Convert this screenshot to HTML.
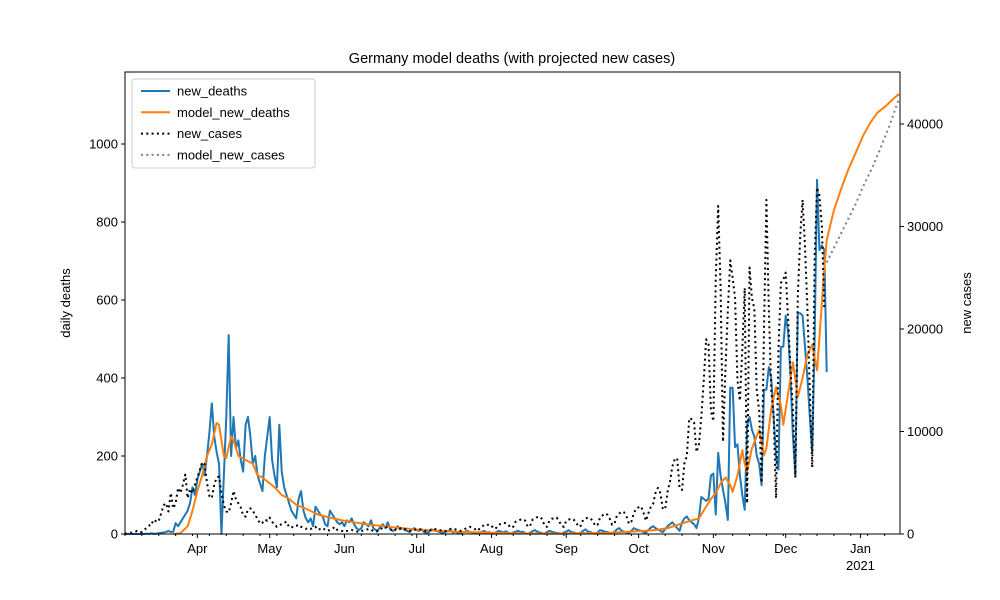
<!DOCTYPE html>
<html><head><meta charset="utf-8"><style>
html,body{margin:0;padding:0;background:#fff;}
svg{display:block;font-family:"Liberation Sans","DejaVu Sans",sans-serif;}
</style></head><body>
<svg id="chart" width="1000" height="600" viewBox="0 0 1000 600" xmlns="http://www.w3.org/2000/svg">
<rect x="0" y="0" width="1000" height="600" fill="#fff"/>
<text x="512" y="63" text-anchor="middle" font-size="14.5" fill="#000">Germany model deaths (with projected new cases)</text>
<text transform="translate(70,303) rotate(-90)" text-anchor="middle" font-size="13">daily deaths</text>
<text transform="translate(971,303) rotate(-90)" text-anchor="middle" font-size="13">new cases</text>
<g id="plot"></g>
</svg>
<script>
// ---- data (day index 0 = 2020-03-02) ----
const monthLabels = ["Apr","May","Jun","Jul","Aug","Sep","Oct","Nov","Dec","Jan"];
const monthDays = [30,60,91,121,152,183,213,244,274,305];
const leftTicks = [0,200,400,600,800,1000];
const rightTicks = [0,10000,20000,30000,40000];
const newDeaths = [
0,0,0,0,0,0,0, 0,0,1,0,2,0,1, 2,3,4,5,8,5,6, 28,20,30,40,50,60,80,
120,100,140,160,180,150,200, 260,335,250,210,180,0,150, 300,510,200,300,220,240,190,
160,280,300,250,180,200,150, 130,110,200,250,300,190,150, 120,280,160,120,100,80,60,
50,40,90,110,60,40,30, 40,20,70,60,50,45,25, 20,60,50,40,30,25,30,
20,35,30,40,25,15,10, 15,30,25,20,35,15,10, 10,20,25,15,30,12,8,
10,20,12,15,10,8,5, 12,15,10,8,12,5,3, 5,12,10,8,6,4,2,
5,8,10,4,6,3,2, 4,6,8,5,4,2,1, 3,6,8,4,5,2,1,
5,8,6,4,7,3,1, 4,6,8,5,6,2,1, 3,7,10,6,4,2,1,
5,8,6,4,3,2,1, 4,6,10,5,4,2,1, 3,8,12,6,5,2,1,
4,10,8,6,5,3,2, 6,12,15,8,6,4,2, 8,15,12,10,8,5,3,
10,16,20,15,12,8,5, 12,20,25,30,22,15,8, 30,40,45,35,30,25,15,
40,95,90,85,90,150,155, 50,208,150,113,80,36,375, 375,223,230,150,100,62,280,
300,267,250,200,180,125,370, 370,428,400,300,200,165,480, 480,560,520,400,250,150,566,
566,560,480,400,300,208,500, 908,728,740,728,415];
const newCases = [
30,50,100,150,200,300,200, 200,400,600,800,1200,1000,1400, 1300,2000,2800,3000,2200,4000,2500,
3000,4500,4000,4800,5800,3500,4400, 4000,4800,5500,6200,7000,6800,5000, 3700,3500,4800,5500,5600,4000,2800,
2200,2100,3000,4200,3400,3000,2600, 1800,1700,2400,2500,2300,1800,1500, 1000,1100,1400,1300,1600,1200,900,
700,800,1000,1100,1200,700,600, 800,800,900,700,600,500,600, 500,600,700,400,500,600,400,
300,400,500,700,400,350,300, 200,300,350,400,300,250,200, 300,350,400,500,400,300,200,
300,500,600,700,600,500,300, 400,600,550,600,500,400,300, 300,400,450,500,400,350,250,
300,400,500,450,400,350,250, 300,400,500,550,450,400,300, 400,500,600,700,600,500,300,
500,700,900,850,950,800,500, 600,900,1000,1100,1050,900,600, 700,1200,1300,1400,1450,1300,700,
800,1400,1500,1650,1700,1450,800, 700,1300,1500,1500,1600,1300,800, 700,1300,1400,1500,1400,1200,700,
800,1400,1500,1600,1500,1300,800, 900,1600,1800,2000,1900,1500,900, 1000,1800,2000,2200,2100,1700,1000,
1200,2000,2500,2600,2700,2100,1300,
2000,2600,2900,4000,4500,4000,2500, 2400,4100,5100,6600,7300,7400,4500, 4300,6900,7600,11300,11200,10900,8000,
8700,11400,14900,19000,18500,12000,11000, 25000,32000,24000,9000,16000,21800,26700, 25000,23000,15000,13000,18000,24000,3000,
26000,23000,22000,14000,12000,5000,20000, 32600,22000,14000,11500,3500,18000,24500, 24800,25500,21000,16000,12000,5500,23000,
29000,32600,28000,22000,14000,6500,27000, 33800,33000,30000,22000];
const modelDeathDays = [20,23,26,28,30,32,34,36,38,39,41,42,44,45,47,50,53,55,57,59,62,65,68,71,75,80,85,90,95,100,110,120,130,140,150,160,170,180,190,200,210,215,220,225,230,235,238,241,243,245,247,249,251,252,254,256,257,258,260,263,265,266,268,270,272,273,275,277,279,281,283,285,287,288,290,291,294,297,300,303,306,309,312,316,319,321];
const modelDeaths = [0,2,20,60,110,150,200,230,285,280,200,195,250,240,200,190,180,150,145,135,120,100,90,75,65,50,42,35,30,25,18,12,8,5,4,2,1,1,2,3,6,8,10,15,25,35,40,70,90,105,130,145,125,108,150,215,180,160,220,267,202,220,320,377,330,280,360,440,351,400,460,485,420,505,680,754,830,885,935,977,1020,1054,1080,1100,1118,1128];
const modelCaseDays = [291,295,299,303,306,310,313,317,321];
const modelCases = [26500,28400,30300,32200,33850,35800,37460,39800,42500];

// ---- axes ----
const X0=125,X1=900,Y0=534,Y1=72;
const xs = d => X0 + d*(X1-X0)/321.4;
const yl = v => Y0 - v*0.39;
const yr = v => Y0 - v*0.01025;
const NS="http://www.w3.org/2000/svg";
const plot=document.getElementById('plot');
function mk(tag,attrs,parent){const e=document.createElementNS(NS,tag);for(const k in attrs)e.setAttribute(k,attrs[k]);(parent||plot).appendChild(e);return e;}

function line(days,vals,yf,stroke,dash,width,name){
  let p='';for(let i=0;i<vals.length;i++){p+=(i?'L':'M')+xs(days[i]).toFixed(2)+' '+yf(vals[i]).toFixed(2);}
  const e=mk('path',{d:p,fill:'none',stroke:stroke,'stroke-width':width,'stroke-linejoin':'round'});
  if(dash)e.setAttribute('stroke-dasharray',dash);
  
  
}
const caseDays=newCases.map((_,i)=>i), deathDays=newDeaths.map((_,i)=>i);
line(deathDays,newDeaths,yl,'#1f77b4',null,2,'new-deaths-line');
line(modelDeathDays,modelDeaths,yl,'#ff7f0e',null,2,'model-new-deaths-line');
line(caseDays,newCases,yr,'#000','2 3.3',2,'new-cases-line');
line(modelCaseDays,modelCases,yr,'#808080','2 3.3',2,'model-new-cases-line');

const fr=mk('rect',{x:X0,y:Y1,width:X1-X0,height:Y0-Y1,fill:'none',stroke:'#000','stroke-width':1});



leftTicks.forEach(v=>{const y=yl(v);mk('line',{x1:X0-4,x2:X0,y1:y,y2:y,stroke:'#000'});
 const t=mk('text',{x:X0-7,y:y+4.5,'text-anchor':'end','font-size':13});t.textContent=v;
 
 });
rightTicks.forEach(v=>{const y=yr(v);mk('line',{x1:X1,x2:X1+4,y1:y,y2:y,stroke:'#000'});
 const t=mk('text',{x:X1+7,y:y+4.5,'text-anchor':'start','font-size':13});t.textContent=v;
 
 });
for(let d=0;d<=321;d+=7){const x=xs(d);mk('line',{x1:x,x2:x,y1:Y0,y2:Y0+2,stroke:'#000'});}
monthDays.forEach((d,i)=>{const x=xs(d);mk('line',{x1:x,x2:x,y1:Y0,y2:Y0+4,stroke:'#000'});
 const t=mk('text',{x:x,y:Y0+19,'text-anchor':'middle','font-size':13});t.textContent=monthLabels[i];
 
 });
const yt=mk('text',{x:xs(305),y:Y0+36,'text-anchor':'middle','font-size':13});yt.textContent='2021';



const lg=mk('g',{});


mk('rect',{x:132,y:79,width:183,height:89,rx:3,fill:'#fff','fill-opacity':0.8,stroke:'#ccc'},lg);
const leg=[['new_deaths','#1f77b4',null],['model_new_deaths','#ff7f0e',null],['new_cases','#000','2 3.3'],['model_new_cases','#808080','2 3.3']];
leg.forEach((l,i)=>{const y=91+i*21.3;
 const g=mk('g',{},lg);
 
 
 const ln=mk('line',{x1:141,x2:170,y1:y,y2:y,stroke:l[1],'stroke-width':2},g);if(l[2])ln.setAttribute('stroke-dasharray',l[2]);
 const t=mk('text',{x:177,y:y+4.5,'font-size':13},g);t.textContent=l[0];});
</script>
</body></html>
